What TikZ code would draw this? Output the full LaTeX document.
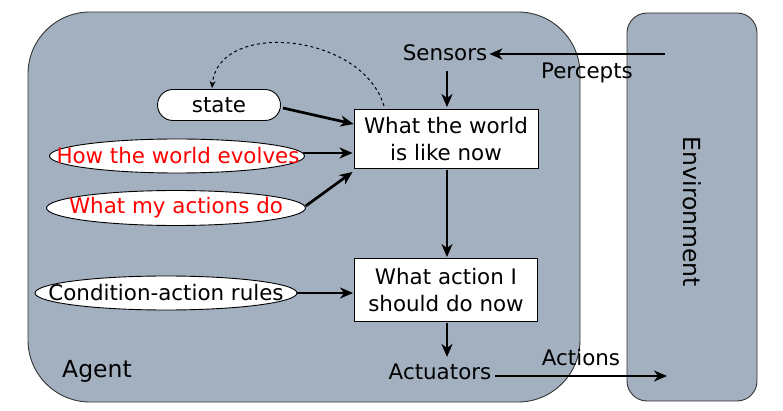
\documentclass[tikz,border=0pt]{standalone}
\usepackage{fontspec}
\setmainfont{DejaVu Sans}
\usetikzlibrary{arrows.meta,shapes.geometric,shapes.misc,calc}
\definecolor{boxfill}{RGB}{162,176,192}
\definecolor{txtred}{RGB}{255,0,0}
\begin{document}
\begin{tikzpicture}[x=1pt,y=-1pt,
  every node/.style={font=\fontsize{21.4}{26.5}\selectfont, inner sep=0pt},
  big/.style={font=\fontsize{23.5}{28}\selectfont},
  region/.style={draw=black!80, line width=0.9pt, fill=boxfill},
  ovalline/.style={draw=black, line width=0.9pt, fill=white},
  ovalnode/.style={rectangle},
  pill/.style={rounded rectangle, draw=black, line width=0.9pt, fill=white},
  rbox/.style={rectangle, draw=black, line width=0.9pt, fill=white, align=center},
  arr/.style={line width=2.7pt, -{Stealth[length=13pt,width=11pt,inset=4pt]}}]
\useasboundingbox (0,0) rectangle (783,411);
% regions
\draw[region, rounded corners=62pt] (28,12) rectangle (580,402);
\draw[region, rounded corners=20pt] (627,13) rectangle (757,401);
% oval outlines
\draw[ovalline] (177,156) ellipse [x radius=127.5, y radius=17];
\draw[ovalline] (176,208) ellipse [x radius=129.5, y radius=17.5];
\draw[ovalline] (166,293) ellipse [x radius=131, y radius=17];
% nodes
\node[pill, minimum width=123pt, minimum height=31pt] (state) at (219,105) {state};
\node[ovalnode, minimum width=255pt, minimum height=34pt, text=txtred] (hwe) at (178,156) {How the world evolves};
\node[ovalnode, minimum width=259pt, minimum height=35pt, text=txtred] (wmad) at (176,208) {What my actions do};
\node[ovalnode, minimum width=262pt, minimum height=34pt] (car) at (166,293) {Condition-action rules};
\node[rbox, minimum width=184pt, minimum height=59pt] (world) at (446,139) {What the world\\is like now};
\node[rbox, minimum width=183pt, minimum height=63pt] (act) at (446,290) {What action I\\should do now};
\node (sens) at (445,53) {Sensors};
\node (actu) at (440,372) {Actuators};
\node[big] (agent) at (97,371) {Agent};
\node (perc) at (587,73) {Percepts};
\node (acts) at (581,358) {Actions};
\node[big, rotate=-90] (env) at (692,212) {Environment};
\coordinate (envin) at (665,54);
\coordinate (envout) at (667,376);
% connectors
\draw[arr] (envin) -- ($(sens.east)+(2,1)$);
\draw[arr] ($(sens.south)+(2,10)$) -- ($(world.north)+(1,-2)$);
\draw[arr] ($(state.east)+(2,3)$) -- ($(world.west)+(0,-15)$);
\draw[arr] ($(hwe.east)+(-3,-3)$) -- ($(world.west)+(-1,14)$);
\draw[arr] ($(wmad.east)+(0,-2)$) -- ($(world.south west)+(-1,3)$);
\draw[arr] ($(world.south)+(1,1)$) -- ($(act.north)+(1,-1)$);
\draw[arr] (car.east) -- ($(act.west)+(-1,3)$);
\draw[arr] ($(act.south)+(1,1)$) -- ($(act.south)+(1,35)$);
\draw[arr] ($(actu.east)+(4,4)$) -- (envout);
\draw[line width=1pt, dashed, -{Stealth[length=7pt,width=6pt]}]
  ($(world.north)+(-62,-3)$) .. controls (362,32) and (218,20) .. ($(state.north)+(-7,-1)$);
\end{tikzpicture}
\end{document}
